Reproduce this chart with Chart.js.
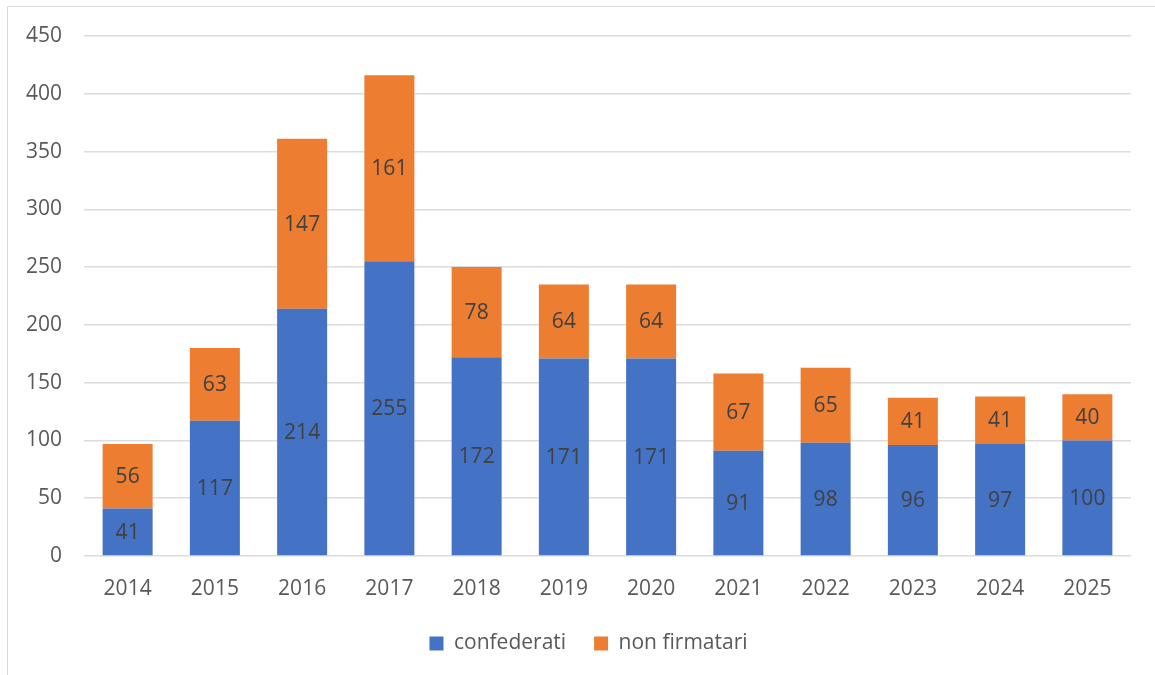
<!DOCTYPE html>
<html>
<head>
<meta charset="utf-8">
<script src="https://cdn.jsdelivr.net/npm/chart.js@4.4.1/dist/chart.umd.min.js"></script>
<style>
  html, body { margin: 0; padding: 0; background: #ffffff; }
  #wrap { position: relative; width: 1155px; height: 675px; overflow: hidden; }
  #frame { position: absolute; left: 7px; top: 6px; width: 1160px; height: 680px;
           border-left: 1px solid #d9d9d9; border-top: 1px solid #d9d9d9; box-sizing: border-box; }
  canvas { position: absolute; left: 0; top: 0; }
</style>
</head>
<body>
<div id="wrap">
  <div id="frame"></div>
  <canvas id="c" width="1155" height="675"></canvas>
</div>
<script>
const categories = ['2014','2015','2016','2017','2018','2019','2020','2021','2022','2023','2024','2025'];
const confederati = [41, 117, 214, 255, 172, 171, 171, 91, 98, 96, 97, 100];
const nonFirmatari = [56, 63, 147, 161, 78, 64, 64, 67, 65, 41, 41, 40];
const seriesNames = ['confederati', 'non firmatari'];
const yTicks = [0, 50, 100, 150, 200, 250, 300, 350, 400, 450];

const FONT = "'Open Sans', sans-serif";
const FS = 21;

const valueLabels = {
  id: 'valueLabels',
  afterDatasetsDraw(chart) {
    const ctx = chart.ctx;
    ctx.save();
    ctx.font = FS + "px " + FONT;
    ctx.fillStyle = '#404040';
    ctx.textAlign = 'center';
    ctx.textBaseline = 'middle';
    chart.data.datasets.forEach((ds, i) => {
      const meta = chart.getDatasetMeta(i);
      meta.data.forEach((bar, j) => {
        const p = bar.getProps(['x', 'y', 'base'], true);
        ctx.fillText(String(ds.data[j]), p.x, (p.y + p.base) / 2 + 1);
      });
    });
    ctx.restore();
  }
};

// centre the legend on the whole frame rather than on the chart box
const legendShift = {
  id: 'legendShift',
  afterLayout(chart) {
    const lg = chart.legend;
    if (lg) { lg.left += 46; }
  }
};

new Chart(document.getElementById('c'), {
  type: 'bar',
  data: {
    labels: categories,
    datasets: [
      { label: seriesNames[0], data: confederati, backgroundColor: '#4472C4', borderWidth: 0 },
      { label: seriesNames[1], data: nonFirmatari, backgroundColor: '#ED7D31', borderWidth: 0 }
    ]
  },
  options: {
    responsive: false,
    animation: false,
    devicePixelRatio: 1,
    layout: { padding: { left: 0, right: 24, top: 36, bottom: 11 } },
    datasets: { bar: { categoryPercentage: 1.0, barPercentage: 0.573 } },
    scales: {
      x: {
        stacked: true,
        afterFit: (s) => { s.height = 49; },
        grid: { display: false, drawTicks: false },
        border: { display: false },
        ticks: { color: '#595959', font: { family: FONT, size: FS }, padding: 20 }
      },
      y: {
        stacked: true,
        min: 0, max: 450,
        afterBuildTicks: (s) => { s.ticks = yTicks.map(v => ({ value: v })); },
        afterFit: (s) => { s.width = 84; },
        grid: { color: '#dcdcdc', lineWidth: 1.6, drawTicks: false },
        border: { display: false },
        ticks: { color: '#595959', font: { family: FONT, size: FS }, padding: 22 }
      }
    },
    plugins: {
      legend: {
        position: 'bottom',
        labels: {
          color: '#595959', font: { family: FONT, size: FS },
          boxWidth: 14, boxHeight: 14, padding: 28
        }
      },
      tooltip: { enabled: false }
    }
  },
  plugins: [valueLabels, legendShift]
});
</script>
</body>
</html>
